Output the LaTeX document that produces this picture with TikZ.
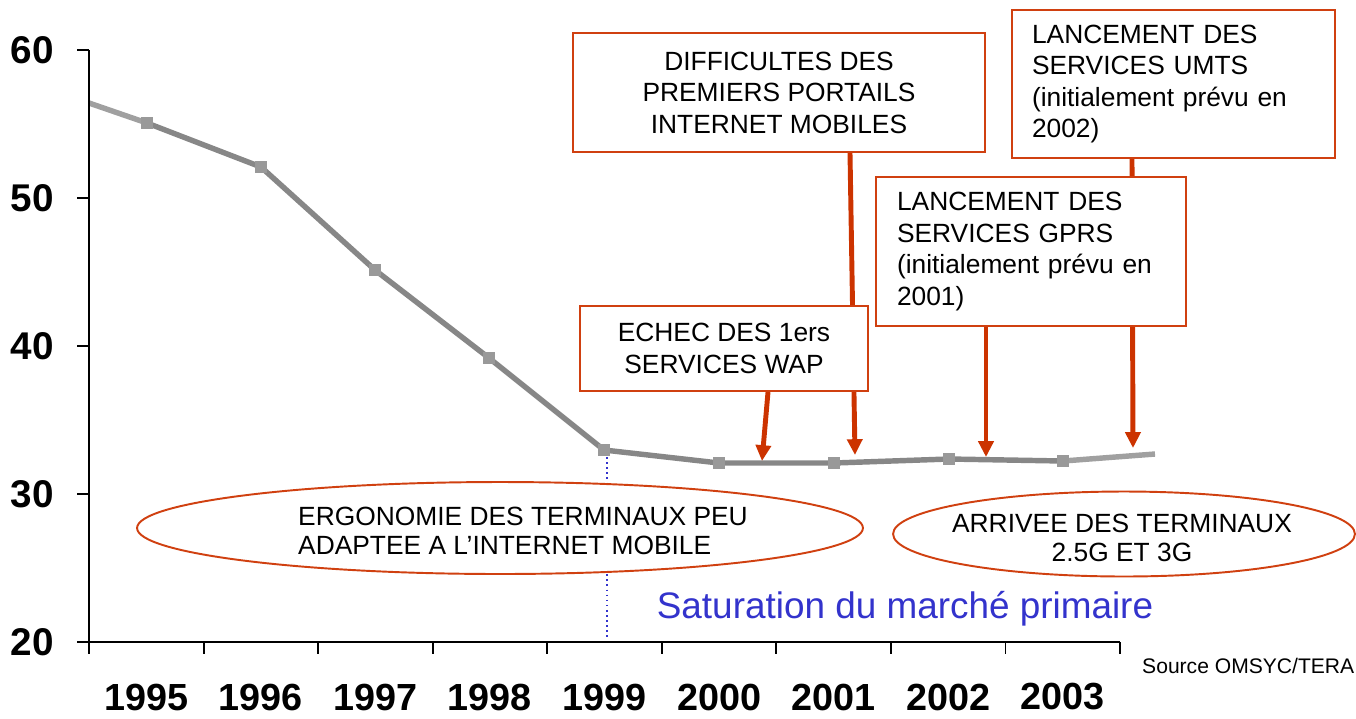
\documentclass[tikz,border=0pt]{standalone}
\usepackage{fontspec}
\setmainfont{Liberation Sans}
\usetikzlibrary{arrows.meta,shapes.geometric,backgrounds}
\definecolor{boxred}{HTML}{D04010}
\definecolor{arrred}{HTML}{CC3300}
\definecolor{dgray}{HTML}{878787}
\definecolor{lgray}{HTML}{A0A0A0}
\definecolor{mgray}{HTML}{999999}
\definecolor{satblue}{HTML}{3333CC}
\begin{document}
\begin{tikzpicture}[x=0.02cm,y=-0.02cm,
  axis/.style={line width=1.1pt,black},
  ylab/.style={anchor=east,font=\fontsize{22}{24}\selectfont\bfseries},
  xlab/.style={font=\fontsize{21.5}{24}\selectfont\bfseries},
  dataline/.style={line width=3.1pt,dgray},
  endline/.style={line width=3.1pt,lgray},
  marker/.style={rectangle,fill=mgray,minimum size=0.23cm,inner sep=0pt},
  infobox/.style={draw=boxred,line width=1.2pt,fill=white,inner ysep=0pt,
    font=\fontsize{15}{17.9}\selectfont},
  ell/.style={ellipse,draw=boxred,line width=1.1pt,fill=white,inner sep=0pt},
  elltext/.style={font=\fontsize{15}{16.2}\selectfont},
  arr/.style={arrred,line width=2.8pt,-{Triangle[width=8.5pt,length=9pt]}},
  sat/.style={satblue,font=\fontsize{21}{24}\selectfont},
  src/.style={anchor=west,font=\fontsize{12}{14}\selectfont}]
\useasboundingbox (0,0) rectangle (1356,718);

% axes
\draw[axis] (89,50) -- (89,654);
\draw[axis] (77,642) -- (1120,642);
\foreach \yy/\lab in {50/60,198/50,346/40,494/30,642/20}{
  \draw[axis] (77,\yy) -- (89,\yy);
  \node[ylab] (yl\lab) at (60,\yy) {\lab};
}
\foreach \i in {0,...,9}{
  \draw[axis] ({89+114.56*\i},642) -- ({89+114.56*\i},654);
}
\foreach \i/\yr in {0/1995,1/1996,2/1997,3/1998,4/1999,5/2000,6/2001,7/2002,8/2003}{
  \node[xlab] (x\yr) at ({146.3+114.56*\i},697) {\yr};
}

% data
\coordinate (p0) at (89,103);
\node[marker] (p1) at (147,123) {};
\node[marker] (p2) at (261,167) {};
\node[marker] (p3) at (375,270) {};
\node[marker] (p4) at (489,358) {};
\node[marker] (p5) at (604,450) {};
\node[marker] (p6) at (719,463) {};
\node[marker] (p7) at (834,463) {};
\node[marker] (p8) at (949,459) {};
\node[marker] (p9) at (1063,461) {};
\coordinate (p10) at (1155,454);

% target points of arrows
\coordinate (t1) at (762,461);
\coordinate (t2) at (855,455);
\coordinate (t3) at (986,457);
\coordinate (t4) at (1133,448);
\coordinate (xa) at (768,0);
\coordinate (xb) at (850,0);
\coordinate (xc) at (986,0);
\coordinate (xd) at (1132,0);

% boxes
\node[infobox,minimum width=8.24cm,minimum height=2.38cm,align=center] (dif) at (779,92.5)
  {DIFFICULTES DES\\PREMIERS PORTAILS\\INTERNET MOBILES};
\node[infobox,text width=5.66cm,inner xsep=0.4cm,minimum height=2.96cm,align=left] (umts) at (1173.5,84)
  {LANCEMENT DES\\SERVICES UMTS\\(initialement prévu en\\2002)};
\node[infobox,text width=5.36cm,inner xsep=0.42cm,minimum height=2.98cm,align=left] (gprs) at (1031,251.5)
  {LANCEMENT DES\\SERVICES GPRS\\(initialement prévu en\\2001)};
\node[infobox,minimum width=5.76cm,minimum height=1.7cm,align=center] (ech) at (724,348.5)
  {ECHEC DES 1ers\\SERVICES WAP};

% ellipses
\node[ell,minimum width=14.52cm,minimum height=1.84cm] (e1) at (500,528) {};
\node[elltext,align=left] (e1t) at (523,531) {ERGONOMIE DES TERMINAUX PEU\\ADAPTEE A L’INTERNET MOBILE};
\node[ell,minimum width=9.24cm,minimum height=1.7cm] (e2) at (1124,534) {};
\node[elltext,align=center] (e2t) at (1122,538) {ARRIVEE DES TERMINAUX\\2.5G ET 3G};

% texts
\node[sat] (satt) at (905,609) {Saturation du marché primaire};
\node[src] (srct) at (1136,666) {Source OMSYC/TERA};

\begin{scope}[on background layer]
  \coordinate (dtop) at (607,452);
  \coordinate (dbot) at (607,637);
  \draw[satblue,line width=0.9pt,dotted] (dtop) -- (dbot);
  \draw[endline] (p0) -- (p1.center);
  \draw[dataline,line join=round] (p1.center) -- (p2.center) -- (p3.center) -- (p4.center) -- (p5.center) -- (p6.center) -- (p7.center) -- (p8.center) -- (p9.center);
  \draw[endline] (p9.center) -- (p10);
  \draw[arr] (ech.south -| xa) -- (t1);
  \draw[arr] (dif.south -| xb) -- (t2);
  \draw[arr] (gprs.south -| xc) -- (t3);
  \draw[arr] (umts.south -| xd) -- (t4);
\end{scope}
% markers on top of line
\foreach \k in {1,...,9}{ \fill[mgray] (p\k.south west) rectangle (p\k.north east); }
\end{tikzpicture}
\end{document}
